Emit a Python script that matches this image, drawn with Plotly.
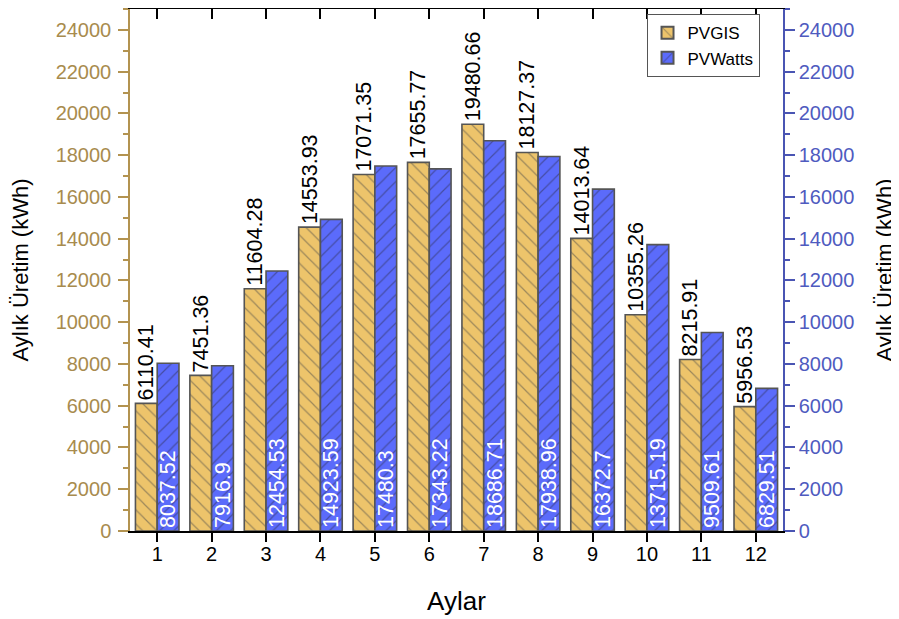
import plotly.graph_objects as go

months = [1, 2, 3, 4, 5, 6, 7, 8, 9, 10, 11, 12]
pvgis = [6110.41, 7451.36, 11604.28, 14553.93, 17071.35, 17655.77,
         19480.66, 18127.37, 14013.64, 10355.26, 8215.91, 5956.53]
pvwatts = [8037.52, 7916.9, 12454.53, 14923.59, 17480.3, 17343.22,
           18686.71, 17938.96, 16372.7, 13715.19, 9509.61, 6829.51]
y_ticks = list(range(0, 24001, 2000))

FONT = "Liberation Sans, Arial, sans-serif"
TAN = "#A88B4E"
TAN_LINE = "#B39350"
BLUE = "#4A55B3"

fig = go.Figure()
fig.add_trace(go.Bar(
    x=months, y=pvgis, name="PVGIS",
    width=0.4, offset=-0.4,
    marker=dict(color="#EDC46B", line=dict(color="#555555", width=1.6),
                pattern=dict(shape="\\", fillmode="overlay", fgcolor="#4a4a4a",
                             size=10, solidity=0.12)),
    text=[str(v) for v in pvgis], textposition="outside", textangle=-90,
    outsidetextfont=dict(color="black", size=21.5, family=FONT),
    cliponaxis=False,
))
fig.add_trace(go.Bar(
    x=months, y=pvwatts, name="PVWatts",
    width=0.4, offset=0.0,
    marker=dict(color="#5B6BFB", line=dict(color="#555555", width=1.6),
                pattern=dict(shape="/", fillmode="overlay", fgcolor="#2f2f50",
                             size=10, solidity=0.12)),
    text=[str(v) for v in pvwatts], textposition="inside", textangle=-90,
    insidetextanchor="start",
    insidetextfont=dict(color="white", size=21.5, family=FONT),
    yaxis="y2",
))

fig.update_layout(
    width=891, height=611,
    margin=dict(l=122, r=116, t=1, b=88),
    paper_bgcolor="white", plot_bgcolor="white",
    font=dict(family=FONT, color="black"),
    barmode="overlay",
    showlegend=True,
    legend=dict(x=0.791, y=0.99, xanchor="left", yanchor="top",
                bordercolor="#555555", borderwidth=1, bgcolor="white",
                font=dict(size=17, family=FONT), tracegroupgap=0,
                itemsizing="constant"),
    xaxis=dict(range=[0.5, 12.5], tickvals=months, ticktext=[str(m) for m in months],
               showline=True, linecolor="black", linewidth=1.5,
               ticks="outside", ticklen=9, tickwidth=1.5, tickcolor="black",
               ticklabelstandoff=-5,
               tickfont=dict(size=20, color="black"),
               title=dict(text="Aylar", font=dict(size=26), standoff=28),
               showgrid=False, zeroline=False),
    xaxis2=dict(range=[0.5, 12.5], tickvals=months, overlaying="x", side="top",
                showline=True, linecolor="black", linewidth=1.5,
                ticks="inside", ticklen=10, tickwidth=1.5, tickcolor="black",
                showticklabels=False, showgrid=False, zeroline=False),
    yaxis=dict(range=[0, 25000], tickvals=y_ticks, ticktext=[str(t) for t in y_ticks],
               showline=True, linecolor=TAN_LINE, linewidth=1.5,
               ticks="outside", ticklen=10, tickwidth=1.5, tickcolor=TAN_LINE,
               ticklabelstandoff=3,
               tickfont=dict(size=20, color=TAN),
               minor=dict(dtick=1000, ticks="outside", ticklen=5, tickwidth=1.5,
                          tickcolor=TAN_LINE, showgrid=False),
               title=dict(text="Aylık Üretim (kWh)", font=dict(size=22, color="black"),
                          standoff=22),
               showgrid=False, zeroline=False),
    yaxis2=dict(range=[0, 25000], tickvals=y_ticks, ticktext=[str(t) for t in y_ticks],
                overlaying="y", side="right",
                showline=True, linecolor=BLUE, linewidth=1.5,
                ticks="outside", ticklen=10, tickwidth=1.5, tickcolor=BLUE,
                tickfont=dict(size=20, color="#4F5BBF"),
                minor=dict(dtick=1000, ticks="outside", ticklen=5, tickwidth=1.5,
                           tickcolor=BLUE, showgrid=False),
                title=dict(text="Aylık Üretim (kWh)", font=dict(size=22, color="black"),
                           standoff=23),
                showgrid=False, zeroline=False),
)
# invisible helper so the top axis is drawn
fig.add_trace(go.Scatter(x=[None], y=[None], xaxis="x2", showlegend=False,
                         hoverinfo="skip"))
fig.update_traces(constraintext="none", selector=dict(type="bar"))

fig.write_html("out.html")
